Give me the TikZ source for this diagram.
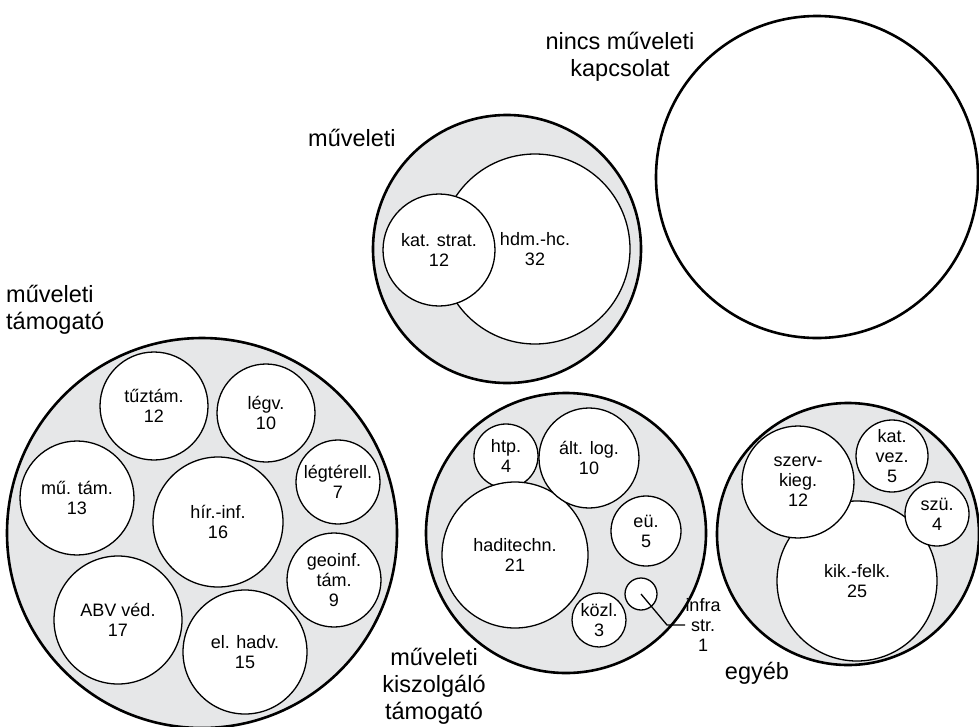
\documentclass[tikz,border=0pt]{standalone}
\usepackage{fontspec}
\setmainfont{Liberation Sans}
\definecolor{ringgray}{RGB}{230,231,232}
\tikzset{
  ring/.style={circle, draw=black, line width=2.6pt, fill=ringgray, inner sep=0pt, minimum size=#1},
  nocon/.style={circle, draw=black, line width=2.6pt, fill=white, inner sep=0pt, minimum size=#1},
  bub/.style={circle, draw=black, line width=1.3pt, fill=white, inner sep=0pt, minimum size=#1},
  txt/.style={font=\fontsize{18}{20}\selectfont, align=center, inner sep=0pt},
  cat/.style={font=\fontsize{23.5}{27}\selectfont, inner sep=0pt},
  leader/.style={line width=1.3pt}
}
\begin{document}
\begin{tikzpicture}[x=1pt,y=-1pt]
\useasboundingbox (0,0) rectangle (979,726);
% nincs muveleti kapcsolat
\node[nocon=322] (nincs) at (817,177) {};
\node[cat, align=center] (t-nincs) at (620,57) {nincs műveleti\\kapcsolat};
% muveleti
\node[ring=268] (mu) at (507,249) {};
\node[bub=190] (hdm) at (535,249) {};
\node[bub=112] (kat) at (439,250) {};
\node[txt] (t-hdm) at (hdm) {hdm.-hc.\\32};
\node[txt] (t-kat) at (kat) {kat. strat.\\12};
\node[cat, anchor=west] (t-mu) at (308,138) {műveleti};
% muveleti tamogato
\node[ring=390] (mt) at (202,533) {};
\node[bub=108] (tuz) at (154,406) {};
\node[bub=98] (legv) at (266,413) {};
\node[bub=84] (legt) at (338,482) {};
\node[bub=114] (mutam) at (77,498) {};
\node[bub=130] (hir) at (218,522) {};
\node[bub=94] (geo) at (334,580) {};
\node[bub=128] (abv) at (118,620) {};
\node[bub=124] (elh) at (245,652) {};
\node[txt] (t-tuz) at (tuz) {tűztám.\\12};
\node[txt] (t-legv) at (legv) {légv.\\10};
\node[txt] (t-legt) at (legt) {légtérell.\\7};
\node[txt] (t-mutam) at (mutam) {mű. tám.\\13};
\node[txt] (t-hir) at (hir) {hír.-inf.\\16};
\node[txt] (t-geo) at (geo) {geoinf.\\tám.\\9};
\node[txt] (t-abv) at (abv) {ABV véd.\\17};
\node[txt] (t-elh) at (elh) {el. hadv.\\15};
\node[cat, align=left, anchor=west] (t-mt) at (6,310) {műveleti\\támogató};
% muveleti kiszolgalo tamogato
\node[ring=280] (mk) at (566,533) {};
\node[bub=64] (htp) at (506,456) {};
\node[bub=146] (hadi) at (515,555) {};
\node[bub=100] (alt) at (589,458) {};
\node[bub=70] (eu) at (646,531) {};
\node[bub=54] (kozl) at (599,620) {};
\node[bub=32] (infra) at (641,594) {};
\node[txt] (t-htp) at (htp) {htp.\\4};
\node[txt] (t-hadi) at (hadi) {haditechn.\\21};
\node[txt] (t-alt) at (alt) {ált. log.\\10};
\node[txt] (t-eu) at (eu) {eü.\\5};
\node[txt] (t-kozl) at (kozl) {közl.\\3};
\coordinate (infk) at (667,625);
\coordinate (infe) at (685,625);
\draw[leader] (infra.center) -- (infk) -- (infe);
\node[txt] (t-infra) at (703,625) {infra\\str.\\1};
\node[cat, align=center] (t-mk) at (434,686) {műveleti\\kiszolgáló\\támogató};
% egyeb
\node[ring=262] (eg) at (848,534) {};
\node[bub=160] (kik) at (857,581) {};
\node[bub=112] (szerv) at (798,482) {};
\node[bub=72] (katv) at (892,456) {};
\node[bub=64] (szu) at (937,514) {};
\node[txt] (t-kik) at (kik) {kik.-felk.\\25};
\node[txt] (t-szerv) at (szerv) {szerv-\\kieg.\\12};
\node[txt] (t-katv) at (katv) {kat.\\vez.\\5};
\node[txt] (t-szu) at (szu) {szü.\\4};
\node[cat] (t-eg) at (757,673) {egyéb};
\end{tikzpicture}
\end{document}
